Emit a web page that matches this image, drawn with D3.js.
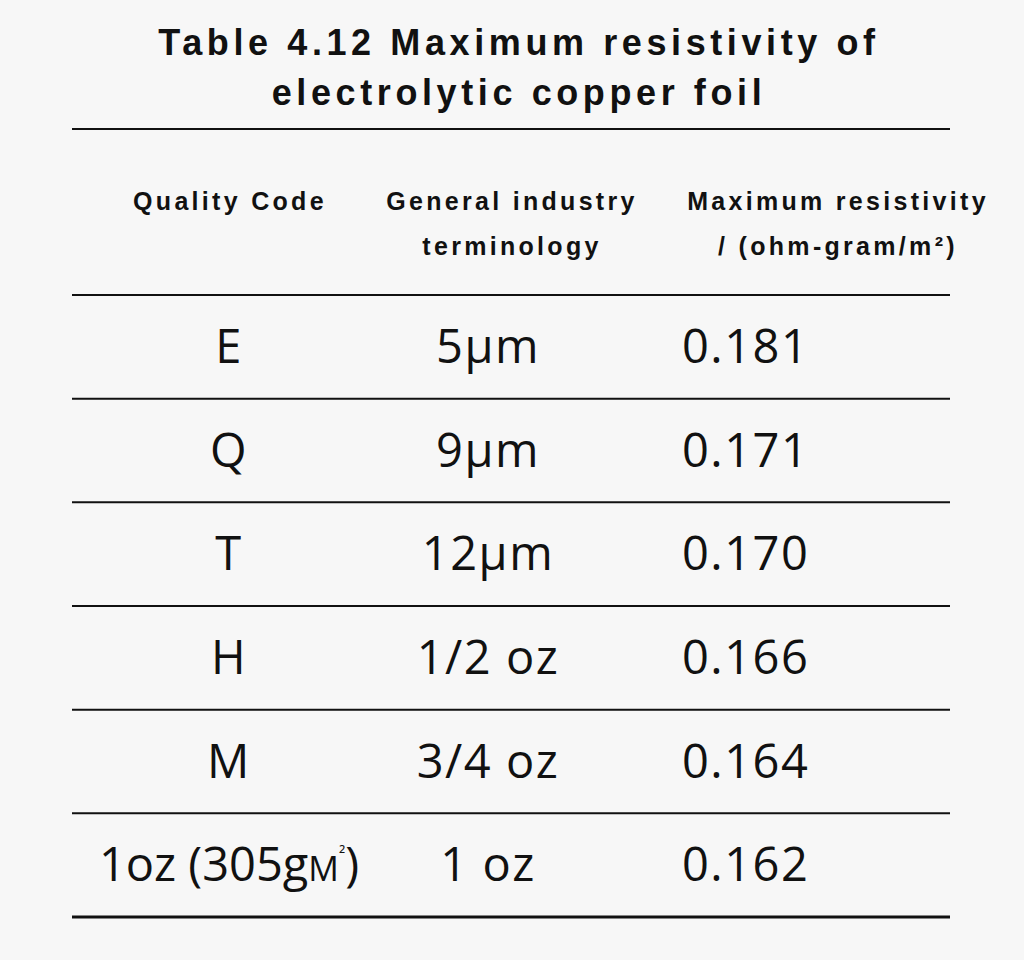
<!DOCTYPE html>
<html><head><meta charset="utf-8">
<script src="https://cdn.jsdelivr.net/npm/d3@7"></script>
<style>body{margin:0;background:#f7f7f7}</style>
</head><body>
<script>
const titleLines = ['Table 4.12 Maximum resistivity of', 'electrolytic copper foil']
const headers = [['Quality Code'], ['General industry', 'terminology'], ['Maximum resistivity', '/ (ohm-gram/m²)']]
const codes = ['E', 'Q', 'T', 'H', 'M', '1oz (305g']
const terms = ['5µm', '9µm', '12µm', '1/2 oz', '3/4 oz', '1 oz']
const resist = ['0.181', '0.171', '0.170', '0.166', '0.164', '0.162']

const W = 1024, H = 960
const svg = d3.select('body').append('svg').attr('width', W).attr('height', H)
  .style('font-family', 'Liberation Sans, Arial, sans-serif')
svg.append('rect').attr('width', W).attr('height', H).attr('fill', '#f7f7f7')

const y = d3.scaleBand().domain(d3.range(codes.length)).range([295, 917])
const left = 72, right = 950

svg.selectAll('.title').data(titleLines).enter().append('text')
  .attr('x', 519).attr('y', (d, i) => 55 + i * 50)
  .attr('text-anchor', 'middle').style('font-size', '36px').style('font-weight', 'bold')
  .style('letter-spacing', '4.6px').attr('fill', '#111').text(d => d)

const headX = [230, 512, 838]
headers.forEach((lines, c) => {
  lines.forEach((t, j) => {
    svg.append('text').attr('x', headX[c]).attr('y', 210 + j * 45)
      .attr('text-anchor', 'middle').style('font-size', '25px').style('font-weight', 'bold')
      .style('letter-spacing', '3.3px').attr('fill', '#111').text(t)
  })
})

const lines = [129, 295].concat(codes.map((d, i) => y(i) + y.bandwidth()))
svg.selectAll('.rule').data(lines).enter().append('line')
  .attr('x1', left).attr('x2', right).attr('y1', d => d).attr('y2', d => d)
  .attr('stroke', '#111').attr('stroke-width', (d, i) => i === lines.length - 1 ? 3 : 2)

const body = svg.append('g').style('font-family', 'Open Sans, Noto Sans, sans-serif')
  .style('font-size', '47px').style('letter-spacing', '1.5px').attr('fill', '#111')
codes.forEach((d, i) => {
  const cy = y(i) + y.bandwidth() / 2 + 16
  const t = body.append('text').attr('x', 229).attr('y', cy).attr('text-anchor', 'middle').text(d)
  if (i === codes.length - 1) {
    t.style('letter-spacing', '0px')
    t.append('tspan').style('font-size', '34px').text('M')
    t.append('tspan').style('font-size', '18px').attr('dy', -20).text('²')
    t.append('tspan').attr('dy', 20).text(')')
  }
  body.append('text').attr('x', 488).attr('y', cy).attr('text-anchor', 'middle').text(terms[i])
  body.append('text').attr('x', 682).attr('y', cy).text(resist[i])
})
</script>
</body></html>
